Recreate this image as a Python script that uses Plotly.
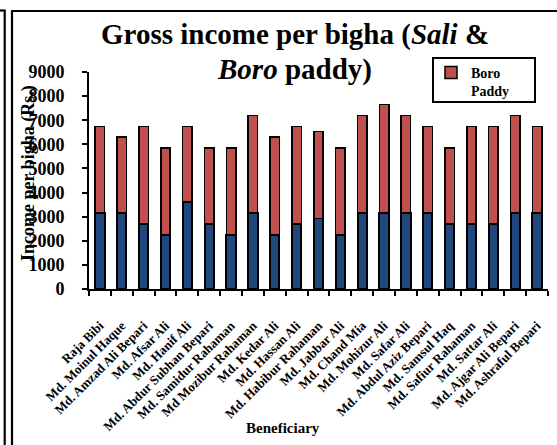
import plotly.graph_objects as go

beneficiaries = [
    "Raja Bibi", "Md. Moinul Haque", "Md. Amzad Ali Bepari", "Md. Afsar Ali",
    "Md. Hanif Ali", "Md. Abdur Subhan Bepari", "Md. Samidur Rahaman",
    "Md Mozibur Rahaman", "Md. Kedar Ali", "Md. Hassan Ali", "Md. Habibur Rahaman",
    "Md. Jabbar Ali", "Md. Chand Mia", "Md. Mohizur Ali", "Md. Safar Ali",
    "Md. Abdul Aziz Bepari", "Md. Samsul Haq", "Md. Safiur Rahaman",
    "Md. Sattar Ali", "Md. Ajgar Ali Bepari", "Md. Ashraful Bepari",
]
total_income = [6750, 6300, 6750, 5850, 6750, 5850, 5850, 7200, 6300, 6750, 6525,
                5850, 7200, 7650, 7200, 6750, 5850, 6750, 6750, 7200, 6750]
sali_paddy = [3150, 3150, 2700, 2250, 3600, 2700, 2250, 3150, 2250, 2700, 2925,
              2250, 3150, 3150, 3150, 3150, 2700, 2700, 2700, 3150, 3150]
boro_paddy = [t - s for t, s in zip(total_income, sali_paddy)]
y_ticks = [0, 1000, 2000, 3000, 4000, 5000, 6000, 7000, 8000, 9000]

W, H = 557, 445
FONT = "Liberation Serif, Times New Roman, serif"
BLUE = "#1F497D"
RED = "#C0504D"


def px(x):
    return x / W


def py(y):
    return 1 - y / H


fig = go.Figure()
fig.add_trace(go.Bar(
    x=beneficiaries, y=sali_paddy, name="Sali Paddy", showlegend=False,
    marker=dict(color=BLUE, line=dict(color="black", width=2)),
))
fig.add_trace(go.Bar(
    x=beneficiaries, y=boro_paddy, name="Boro<br>Paddy",
    marker=dict(color=RED, line=dict(color="black", width=1.5)),
))

shapes = []
line_style = dict(color="black", width=2.2)
# outer frame lines
shapes.append(dict(type="line", xref="paper", yref="paper", x0=px(4.7), x1=px(4.7), y0=py(10), y1=py(445), line=line_style))
shapes.append(dict(type="line", xref="paper", yref="paper", x0=px(0), x1=px(5.5), y0=py(10.5), y1=py(10.5), line=line_style))
shapes.append(dict(type="line", xref="paper", yref="paper", x0=px(12), x1=px(12), y0=py(10.5), y1=py(445), line=line_style))
shapes.append(dict(type="line", xref="paper", yref="paper", x0=px(11), x1=px(557), y0=py(11), y1=py(11), line=line_style))
# legend box
shapes.append(dict(type="rect", xref="paper", yref="paper", x0=px(433), x1=px(535), y0=py(102), y1=py(58),
                   line=dict(color="black", width=2), fillcolor="rgba(0,0,0,0)", layer="above"))

fig.update_layout(
    width=W, height=H,
    margin=dict(l=0, r=0, t=0, b=0),
    paper_bgcolor="white", plot_bgcolor="white",
    barmode="stack", bargap=0.57,
    font=dict(family=FONT, color="black"),
    shapes=shapes,
    showlegend=True,
    legend=dict(
        x=px(431), y=py(57), xanchor="left", yanchor="top",
        borderwidth=0, bgcolor="rgba(255,255,255,0)",
        font=dict(family=FONT, size=14, color="black", weight="bold"),
        itemwidth=30, valign="top",
    ),
    xaxis=dict(
        domain=[px(89), px(548)],
        showline=True, linecolor="black", linewidth=2,
        ticks="outside", ticklen=5, tickwidth=2, tickcolor="black",
        tickson="boundaries", tickangle=-45, ticklabelstandoff=22,
        tickfont=dict(family=FONT, size=13, color="black", weight="bold"),
        showgrid=False, automargin=False,
    ),
    yaxis=dict(
        domain=[py(289), py(72)],
        range=[0, 9000], tickvals=y_ticks,
        showline=True, linecolor="black", linewidth=2,
        ticks="outside", ticklen=5, tickwidth=2, tickcolor="black",
        ticklabelstandoff=14,
        tickfont=dict(family=FONT, size=18, color="black", weight="bold"),
        showgrid=False, zeroline=False, automargin=False,
    ),
    annotations=[
        dict(text="<b>Gross income per bigha (<i>Sali</i> &</b>",
             x=px(295), y=py(35), xref="paper", yref="paper",
             xanchor="center", yanchor="middle", showarrow=False,
             font=dict(family=FONT, size=29, color="black")),
        dict(text="<b><i>Boro</i> paddy)</b>",
             x=px(294), y=py(69), xref="paper", yref="paper",
             xanchor="center", yanchor="middle", showarrow=False,
             font=dict(family=FONT, size=29, color="black")),
        dict(text="<b>Beneficiary</b>", x=px(283), y=py(428), xref="paper", yref="paper",
             xanchor="center", yanchor="middle", showarrow=False,
             font=dict(family=FONT, size=15, color="black")),
        dict(text="<b>Income per bigha (Rs.)</b>", x=px(28), y=py(173), xref="paper", yref="paper",
             xanchor="center", yanchor="middle", showarrow=False, textangle=-90,
             font=dict(family=FONT, size=18, color="black")),
    ],
)

fig.write_html("out.html")
